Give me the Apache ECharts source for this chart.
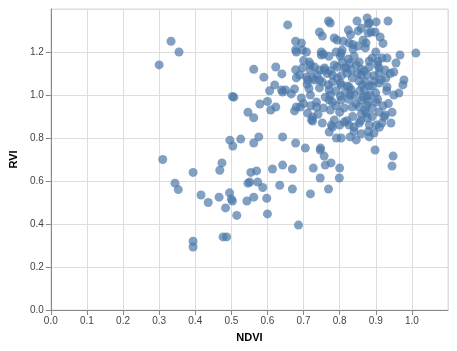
<!DOCTYPE html>
<html>
<head>
<meta charset="utf-8">
<script src="https://cdn.jsdelivr.net/npm/echarts@6/dist/echarts.min.js"></script>
<style>
html,body{margin:0;padding:0;background:#fff;}
#chart{width:457px;height:351px;}
</style>
</head>
<body>
<div id="chart"></div>
<script>
const ndvi = [
0.300,0.333,0.355,0.310,0.344,0.353,0.394,0.416,0.436,0.468,0.474,0.466,0.484,0.495,0.500,0.503,0.515,0.543,0.546,0.551,
0.554,0.570,0.562,0.573,0.587,0.598,0.600,0.614,0.634,0.642,0.669,0.669,0.686,0.394,0.394,0.477,0.487,0.719,0.727,0.746,
0.760,0.757,0.776,0.769,0.800,0.799,0.746,0.898,0.948,0.945,0.656,0.562,0.590,0.623,0.640,0.620,0.606,0.507,0.503,0.579,
0.600,0.623,0.609,0.546,0.562,0.642,0.666,0.675,0.675,0.680,0.678,0.680,0.678,0.678,0.496,0.504,0.526,0.576,0.562,0.642,
0.678,
0.769,0.774,0.848,0.876,0.879,0.901,0.934,0.824,0.851,0.744,0.752,0.879,0.887,0.898,0.912,0.785,0.793,0.694,0.865,0.873,
0.826,0.836,0.851,0.680,0.697,0.708,0.749,0.749,0.755,0.807,0.804,0.837,0.871,0.967,1.011,0.890,0.906,0.917,0.931,0.956,
0.824,0.854,0.846,0.716,0.719,0.785,0.793,0.807,0.744,0.758,0.697,0.818,0.832,0.882,0.909,0.926,0.950,0.708,0.725,0.744,
0.752,0.780,0.793,0.821,0.835,0.860,0.876,0.909,0.915,0.928,0.978,0.975,0.964,0.639,0.650,0.744,0.771,0.769,0.804,0.826,
0.832,0.862,0.868,0.890,0.909,0.931,0.694,0.736,0.771,0.780,0.691,0.711,0.725,0.722,0.725,0.736,0.774,0.804,0.813,0.835,
0.860,0.854,0.876,0.873,0.901,0.909,0.926,0.923,0.752,0.777,0.785,0.813,0.826,0.840,0.854,0.876,0.882,0.901,0.917,0.942,
0.780,0.771,0.791,0.804,0.829,0.846,0.882,0.895,0.705,0.747,0.882,0.802,0.719,0.689,0.738,0.758,0.774,0.813,0.829,0.868,
0.882,0.711,0.730,0.802,0.821,0.854,0.882,0.895,0.719,0.774,0.802,0.829,0.876,
0.856,0.872,0.885,0.860,0.845,0.890,0.865,0.895,0.850,0.840,0.880,0.870,0.900,0.890,0.905,0.858,0.815,0.825,0.860,0.836,
0.800,0.790,0.760,0.755,0.740,0.715,0.730,0.770,0.790,0.810,0.830,0.860,0.840,0.900,0.920,0.905,0.940,0.930,0.935,0.950,
0.920,0.945,0.910,0.880,0.860,0.840,0.820,0.800,0.790,0.805,0.780,0.765,0.700,0.710,0.700,0.720
];
const rvi = [
1.140,1.250,1.200,0.700,0.590,0.560,0.640,0.535,0.500,0.650,0.684,0.525,0.475,0.545,0.516,0.507,0.440,0.507,0.590,0.595,
0.640,0.647,0.525,0.595,0.570,0.520,0.447,0.656,0.580,0.674,0.656,0.563,0.395,0.320,0.293,0.340,0.340,0.540,0.660,0.614,
0.674,0.716,0.684,0.563,0.660,0.614,0.744,0.744,0.716,0.670,1.326,1.120,1.083,1.130,1.098,1.047,1.020,0.990,0.993,0.958,
0.970,0.944,0.930,0.920,0.894,1.014,1.005,1.028,0.926,0.944,1.117,1.080,1.210,1.250,0.790,0.763,0.795,0.805,0.777,0.805,
0.777,
1.344,1.335,1.344,1.358,1.330,1.340,1.344,1.302,1.298,1.293,1.274,1.288,1.293,1.293,1.270,1.265,1.256,1.242,1.256,1.242,
1.242,1.235,1.228,1.200,1.209,1.200,1.200,1.186,1.190,1.209,1.195,1.214,1.219,1.186,1.195,1.172,1.158,1.172,1.172,1.149,
1.167,1.153,1.140,1.153,1.140,1.140,1.130,1.153,1.116,1.126,1.126,1.126,1.116,1.130,1.126,1.116,1.107,1.084,1.079,1.070,
1.060,1.093,1.079,1.102,1.079,1.093,1.093,1.102,1.070,1.079,1.070,1.047,1.009,1.023,1.023,1.033,1.023,1.047,1.047,1.037,
1.023,1.047,1.023,1.042,1.056,1.037,0.986,0.967,0.977,0.967,0.944,0.916,0.898,0.884,0.879,0.944,0.930,0.977,0.940,0.944,
0.977,0.944,0.953,0.916,0.967,0.921,0.907,0.898,0.870,0.860,0.884,0.874,0.860,0.851,0.870,0.893,0.860,0.860,0.870,0.870,
0.851,0.828,0.800,0.800,0.805,0.791,0.805,0.823,0.753,0.753,1.335,1.181,1.116,1.093,1.093,1.116,1.112,1.126,1.149,1.112,
1.158,1.070,1.070,1.056,1.042,1.065,1.042,1.065,1.000,1.000,0.995,1.000,0.995,
1.020,1.060,1.000,0.910,0.960,0.940,0.990,1.090,1.100,1.000,0.970,0.930,1.010,0.900,0.980,0.880,1.010,0.980,1.120,0.900,
0.920,1.020,0.990,0.940,0.910,1.030,1.130,1.180,1.200,1.250,1.280,1.310,1.180,1.200,1.240,1.140,1.100,1.020,0.960,1.000,
0.950,0.920,0.850,0.830,0.820,0.830,0.880,0.860,0.950,1.090,1.060,1.100,1.160,1.050,0.960,0.950
];
const xTicks = [0.0,0.1,0.2,0.3,0.4,0.5,0.6,0.7,0.8,0.9,1.0];
const yTicks = [0.0,0.2,0.4,0.6,0.8,1.0,1.2];

const points = ndvi.map((x, i) => [x, rvi[i]]);
const chart = echarts.init(document.getElementById('chart'), null, {renderer: 'canvas'});
const fam = '"Liberation Sans", Arial, sans-serif';
function fmt(ticks){
  return function(v){
    for (const t of ticks) if (Math.abs(t - v) < 1e-6) return t.toFixed(1);
    return '';
  };
}
chart.setOption({
  animation: false,
  grid: {left: 49, right: 9, top: 9, bottom: 41, show: true, borderColor: '#ddd', borderWidth: 1},
  xAxis: {
    type: 'value', min: 0, max: 1.1, interval: 0.1,
    name: 'NDVI', nameLocation: 'middle', nameGap: 22,
    nameTextStyle: {fontFamily: fam, fontSize: 11, fontWeight: 'bold', color: '#000'},
    axisLine: {show: true, lineStyle: {color: '#888', width: 1}},
    axisTick: {show: true, length: 5, lineStyle: {color: '#888'}},
    axisLabel: {fontFamily: fam, fontSize: 10, color: '#444', margin: 6, formatter: fmt(xTicks), showMaxLabel: false},
    splitLine: {show: true, lineStyle: {color: '#ddd', width: 1}}
  },
  yAxis: {
    type: 'value', min: 0, max: 1.4, interval: 0.2,
    name: 'RVI', nameLocation: 'middle', nameGap: 28, nameRotate: 90,
    nameTextStyle: {fontFamily: fam, fontSize: 11, fontWeight: 'bold', color: '#000'},
    axisLine: {show: true, lineStyle: {color: '#888', width: 1}},
    axisTick: {show: true, length: 5, lineStyle: {color: '#888'}},
    axisLabel: {fontFamily: fam, fontSize: 10, color: '#444', margin: 7, formatter: fmt(yTicks), showMaxLabel: false},
    splitLine: {show: true, lineStyle: {color: '#ddd', width: 1}}
  },
  series: [{
    type: 'scatter',
    data: points,
    symbol: 'circle',
    symbolSize: 9,
    itemStyle: {color: '#4c78a8', opacity: 0.7}
  }]
});
</script>
</body>
</html>
